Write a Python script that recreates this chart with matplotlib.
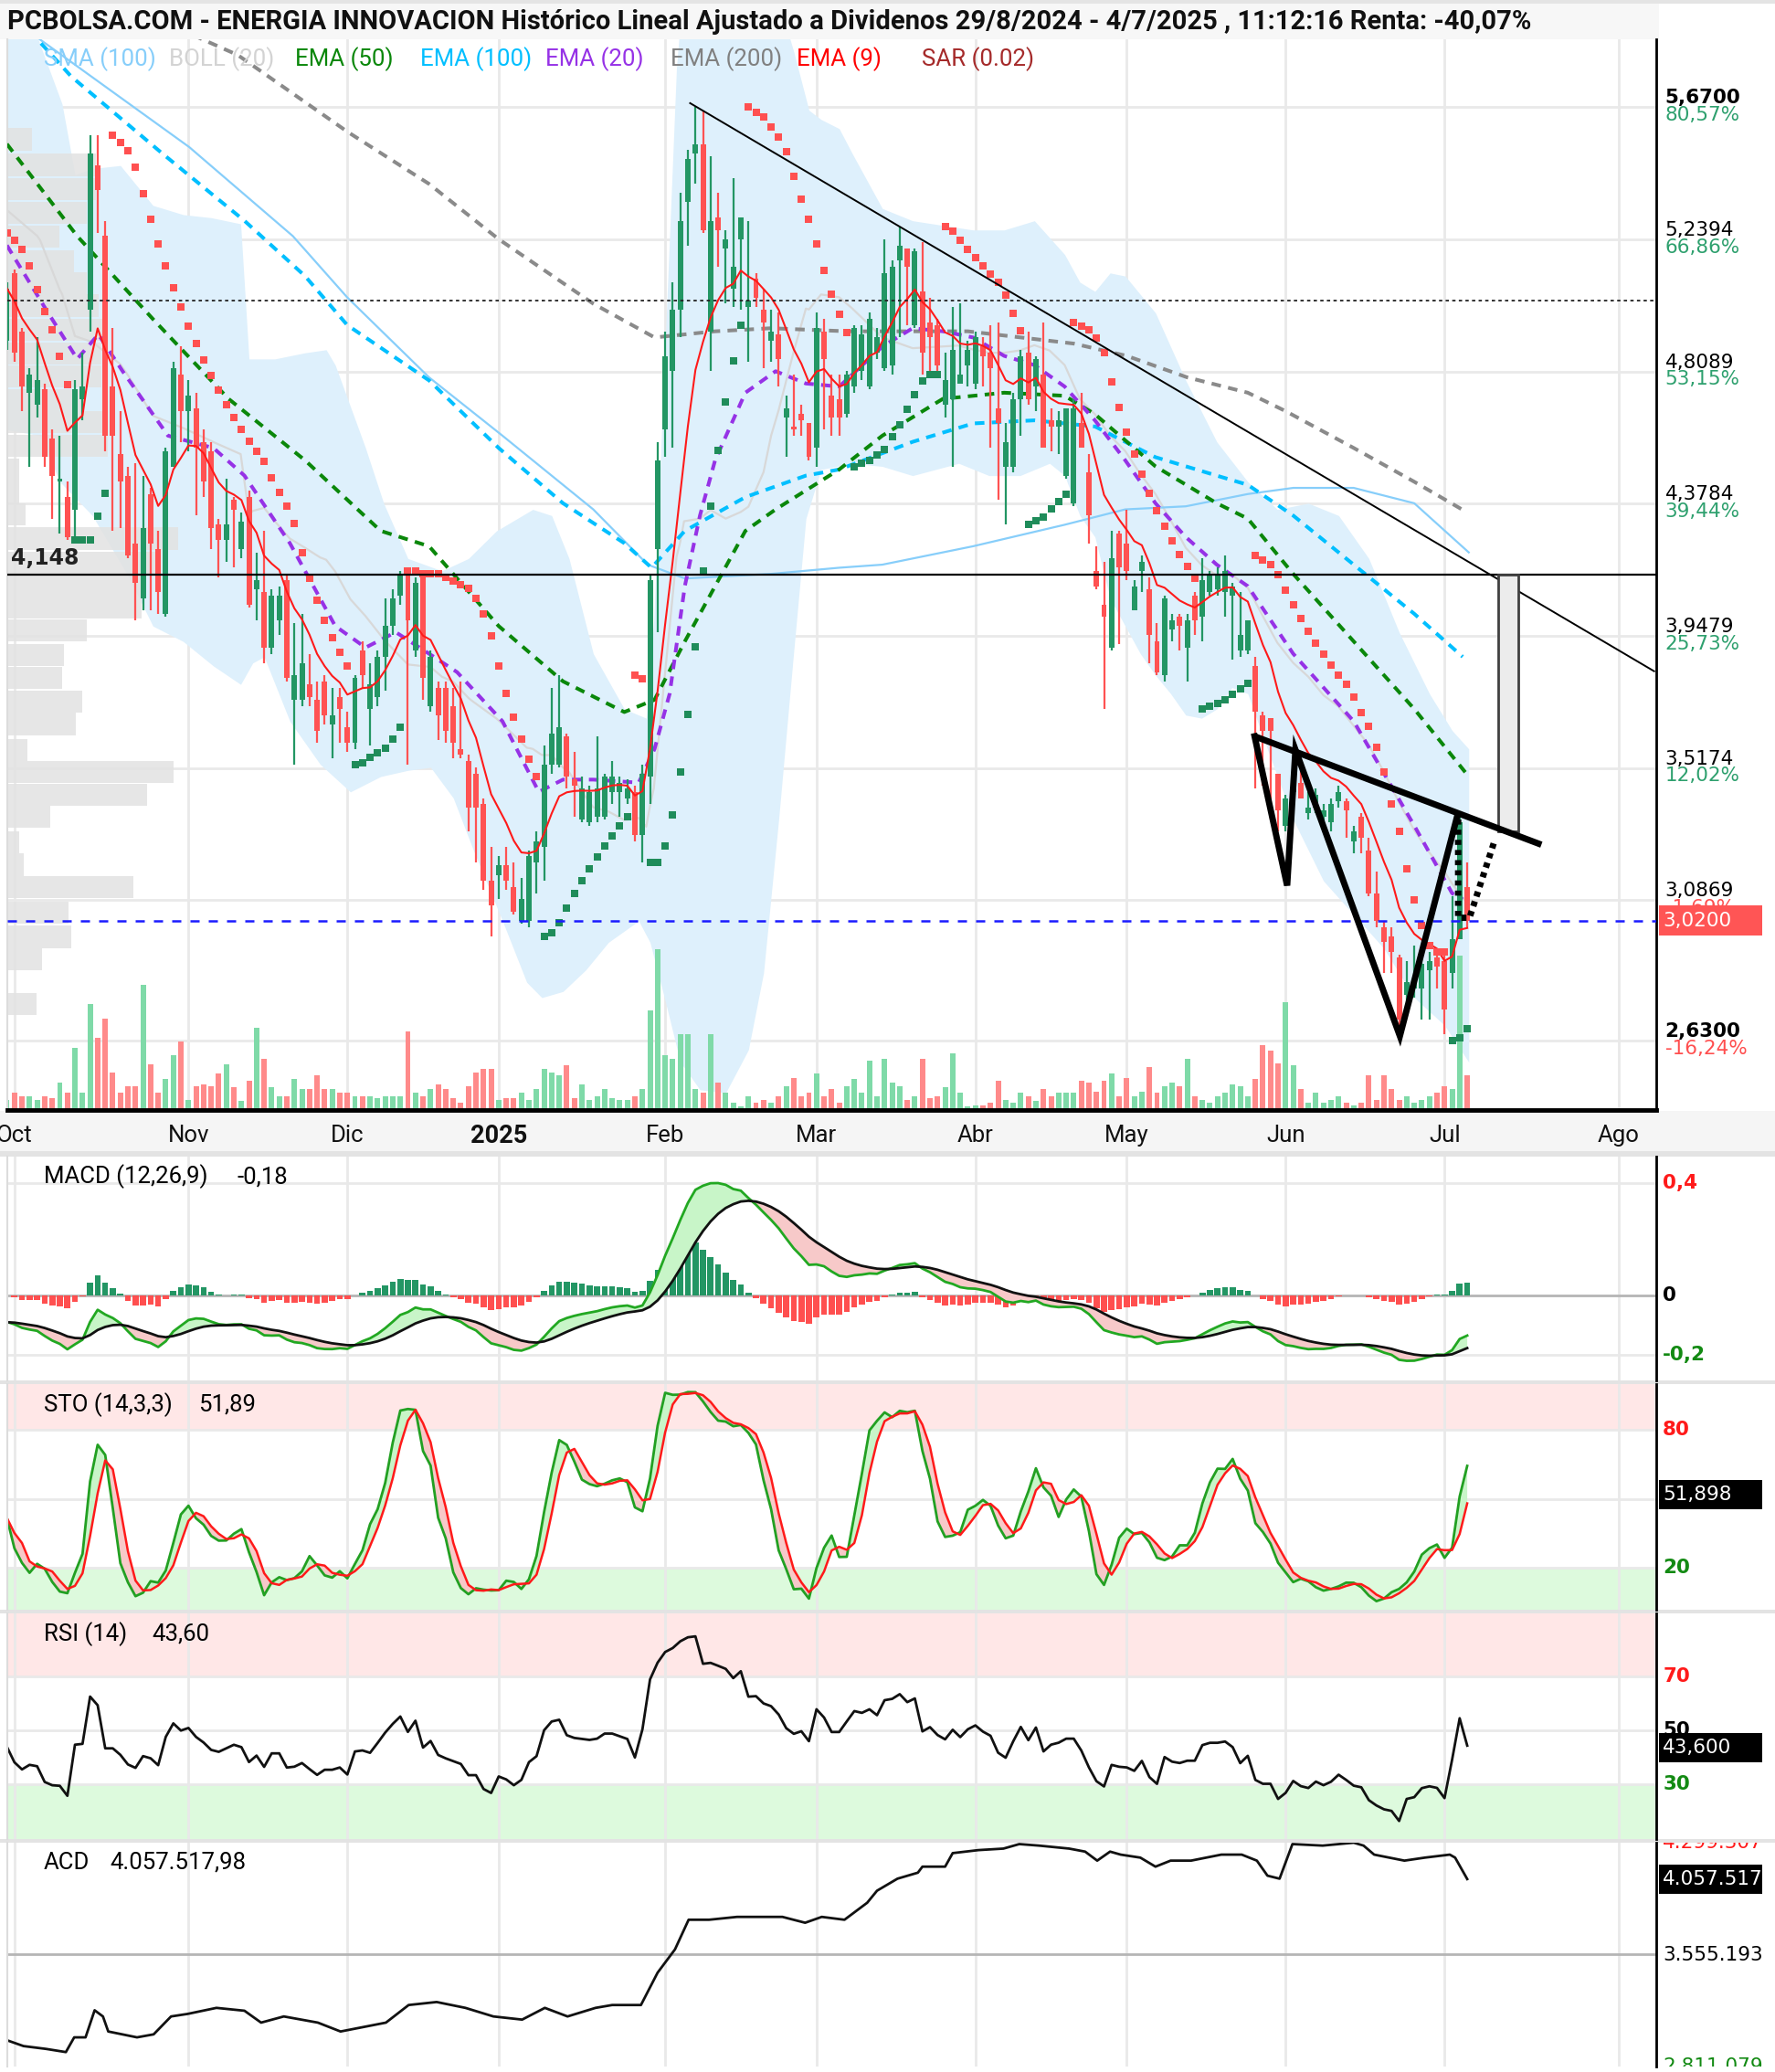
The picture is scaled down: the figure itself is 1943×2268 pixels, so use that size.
import numpy as np
import matplotlib
matplotlib.use("Agg")
import matplotlib.pyplot as plt
from matplotlib.patches import Rectangle
from matplotlib.transforms import Bbox, TransformedBbox

W, H = 1943, 2268
TXT = ['Roboto', 'DejaVu Sans']
NUM = ['DejaVu Sans']
plt.rcParams['font.family'] = TXT

# ---------------- daily bars (index 0 = 1 Oct 2024, trading days) ----------------
first_day = -1
opens = [
    4.91, 5.13, 4.94, 4.74, 4.70, 4.75, 4.59, 4.45, 4.40, 4.36,
    4.72, 5.01, 5.48, 5.25, 4.76, 4.54, 4.47, 4.25, 4.07, 4.41,
    4.23, 4.02, 4.50, 4.80, 4.68, 4.69, 4.58, 4.55, 4.31, 4.26,
    4.39, 4.23, 4.40, 4.10, 4.09, 3.91, 4.00, 4.13, 3.74, 3.74,
    3.79, 3.74, 3.80, 3.66, 3.75, 3.65, 3.60, 3.90, 3.71, 3.75,
    3.88, 3.98, 4.08, 4.15, 3.90, 4.15, 3.72, 3.78, 3.78, 3.72,
    3.58, 3.54, 3.50, 3.40, 3.15, 3.17, 3.20, 3.13, 3.02, 3.02,
    3.21, 3.26, 3.53, 3.53, 3.62, 3.48, 3.35, 3.34, 3.36, 3.36,
    3.44, 3.44, 3.42, 3.44, 3.30, 3.49, 4.23, 4.62, 4.81, 5.01,
    5.36, 5.52, 5.55, 4.94, 5.31, 5.21, 5.08, 5.24, 5.02, 5.11,
    5.01, 4.91, 4.93, 4.66, 4.63, 4.67, 4.64, 4.56, 4.94, 4.73,
    4.72, 4.67, 4.76, 4.81, 4.76, 4.87, 4.82, 4.83, 5.17, 5.21,
    4.96, 5.07, 4.97, 4.96, 4.70, 4.72, 4.77, 4.83, 4.77, 4.89,
    4.87, 4.69, 4.50, 4.50, 4.72, 4.87, 4.76, 4.80, 4.65, 4.63,
    4.47, 4.38, 4.64, 4.48, 4.16, 4.05, 3.91, 4.28, 4.25, 4.03,
    4.16, 4.10, 3.93, 3.82, 3.97, 4.01, 3.91, 4.08, 4.01, 4.09,
    4.10, 4.09, 4.08, 3.90, 3.90, 3.85, 3.69, 3.68, 3.50, 3.33,
    3.44, 3.47, 3.37, 3.39, 3.36, 3.34, 3.41, 3.41, 3.28, 3.36,
    3.25, 3.11, 3.00, 2.97, 2.90, 2.78, 2.80, 2.80, 2.86, 2.90,
    2.89, 2.85, 2.96, 3.13]
highs = [
    5.10, 5.14, 4.95, 4.82, 4.92, 4.77, 4.62, 4.60, 4.45, 4.78,
    4.87, 5.58, 5.58, 5.30, 4.95, 4.68, 4.50, 4.51, 4.47, 4.43,
    4.29, 4.56, 4.84, 4.89, 4.78, 4.74, 4.62, 4.58, 4.33, 4.46,
    4.40, 4.35, 4.42, 4.22, 4.29, 4.10, 4.11, 4.15, 3.99, 4.02,
    3.89, 3.80, 3.82, 3.78, 3.78, 3.70, 3.82, 3.93, 3.86, 3.90,
    4.07, 4.10, 4.16, 4.15, 4.14, 4.15, 3.90, 3.80, 3.80, 3.78,
    3.80, 3.56, 3.52, 3.42, 3.26, 3.23, 3.26, 3.21, 3.16, 3.25,
    3.31, 3.59, 3.78, 3.82, 3.63, 3.57, 3.49, 3.46, 3.62, 3.50,
    3.54, 3.49, 3.48, 3.46, 3.53, 4.15, 4.58, 4.94, 5.10, 5.39,
    5.53, 5.67, 5.66, 5.51, 5.39, 5.27, 5.44, 5.31, 5.30, 5.13,
    5.08, 5.01, 5.00, 4.73, 4.80, 4.70, 4.64, 5.00, 4.98, 4.80,
    4.80, 4.81, 4.96, 4.96, 5.00, 4.95, 5.24, 5.17, 5.28, 5.21,
    5.21, 5.23, 5.05, 4.98, 4.87, 5.02, 5.03, 4.91, 4.94, 4.92,
    4.96, 4.97, 4.64, 4.74, 4.88, 4.94, 4.86, 4.97, 4.69, 4.68,
    4.69, 4.72, 4.74, 4.54, 4.24, 4.19, 4.29, 4.29, 4.36, 4.13,
    4.21, 4.14, 3.99, 4.08, 4.02, 4.02, 4.02, 4.09, 4.20, 4.16,
    4.17, 4.21, 4.12, 4.09, 4.00, 3.88, 3.70, 3.68, 3.50, 3.43,
    3.55, 3.51, 3.44, 3.45, 3.40, 3.42, 3.46, 3.42, 3.33, 3.37,
    3.29, 3.18, 3.02, 3.00, 2.91, 2.89, 2.94, 2.91, 2.92, 2.92,
    2.92, 3.10, 3.37, 3.21]
lows = [
    4.88, 4.84, 4.68, 4.50, 4.66, 4.50, 4.33, 4.28, 4.26, 4.26,
    4.65, 4.94, 5.26, 4.55, 4.29, 4.30, 4.20, 4.00, 4.03, 4.03,
    4.02, 4.01, 4.50, 4.58, 4.55, 4.34, 4.40, 4.23, 4.14, 4.19,
    4.17, 4.20, 4.04, 4.00, 3.86, 3.89, 3.95, 3.80, 3.53, 3.72,
    3.72, 3.60, 3.66, 3.55, 3.60, 3.57, 3.58, 3.78, 3.59, 3.72,
    3.77, 3.95, 4.05, 3.53, 3.88, 3.74, 3.70, 3.61, 3.60, 3.55,
    3.55, 3.31, 3.21, 3.12, 2.97, 3.09, 3.12, 3.04, 3.01, 3.00,
    3.11, 3.15, 3.50, 3.52, 3.45, 3.36, 3.34, 3.33, 3.34, 3.35,
    3.40, 3.36, 3.40, 3.28, 3.21, 3.40, 3.96, 4.53, 4.56, 4.92,
    5.22, 5.42, 5.26, 4.81, 5.15, 5.03, 5.02, 5.01, 4.84, 5.02,
    4.82, 4.84, 4.76, 4.53, 4.60, 4.60, 4.52, 4.50, 4.62, 4.60,
    4.60, 4.66, 4.74, 4.78, 4.75, 4.85, 4.81, 4.80, 4.92, 4.96,
    4.95, 4.80, 4.80, 4.80, 4.66, 4.50, 4.77, 4.76, 4.75, 4.76,
    4.56, 4.39, 4.31, 4.48, 4.60, 4.70, 4.68, 4.56, 4.55, 4.54,
    4.46, 4.37, 4.56, 4.25, 4.10, 3.71, 3.90, 3.92, 4.13, 4.03,
    4.09, 3.86, 3.82, 3.80, 3.93, 3.90, 3.80, 3.95, 3.93, 4.08,
    4.08, 4.01, 3.87, 3.88, 3.89, 3.45, 3.46, 3.35, 3.31, 3.31,
    3.42, 3.42, 3.35, 3.37, 3.34, 3.31, 3.39, 3.29, 3.24, 3.24,
    3.10, 3.00, 2.85, 2.85, 2.63, 2.74, 2.77, 2.70, 2.70, 2.80,
    2.65, 2.80, 2.96, 3.00]
closes = [
    5.08, 4.87, 4.76, 4.80, 4.78, 4.53, 4.47, 4.46, 4.27, 4.75,
    4.76, 5.52, 5.40, 4.60, 4.60, 4.45, 4.21, 4.12, 4.30, 4.25,
    4.09, 4.55, 4.82, 4.68, 4.73, 4.56, 4.45, 4.30, 4.26, 4.31,
    4.36, 4.32, 4.05, 4.13, 3.91, 4.08, 4.08, 3.81, 3.82, 3.86,
    3.75, 3.64, 3.69, 3.69, 3.71, 3.60, 3.81, 3.82, 3.79, 3.88,
    3.98, 4.07, 4.15, 4.00, 4.12, 3.81, 3.88, 3.69, 3.64, 3.60,
    3.56, 3.39, 3.39, 3.15, 3.07, 3.20, 3.15, 3.05, 3.09, 3.23,
    3.28, 3.53, 3.63, 3.65, 3.49, 3.46, 3.45, 3.44, 3.45, 3.49,
    3.49, 3.47, 3.45, 3.30, 3.50, 4.13, 4.52, 4.86, 5.01, 5.30,
    5.50, 5.55, 5.27, 5.30, 5.27, 5.24, 5.15, 5.31, 5.04, 5.05,
    4.97, 4.94, 4.85, 4.69, 4.62, 4.65, 4.53, 4.95, 4.85, 4.66,
    4.66, 4.80, 4.95, 4.93, 4.98, 4.92, 5.13, 5.15, 5.22, 5.15,
    5.20, 4.87, 4.92, 4.83, 4.78, 4.88, 4.80, 4.88, 4.92, 4.86,
    4.82, 4.64, 4.58, 4.72, 4.86, 4.72, 4.85, 4.56, 4.63, 4.65,
    4.69, 4.69, 4.56, 4.34, 4.11, 4.01, 4.20, 4.17, 4.16, 4.11,
    4.19, 3.95, 3.83, 4.07, 4.00, 3.98, 4.00, 4.00, 4.13, 4.15,
    4.15, 4.16, 4.11, 3.95, 4.00, 3.70, 3.64, 3.64, 3.38, 3.42,
    3.50, 3.42, 3.39, 3.43, 3.38, 3.40, 3.44, 3.38, 3.31, 3.29,
    3.11, 3.02, 2.95, 2.92, 2.70, 2.82, 2.83, 2.88, 2.89, 2.87,
    2.73, 2.96, 3.34, 3.02]
volume = [
    15, 25, 20, 20, 15, 20, 17, 40, 25, 90,
    25, 155, 105, 133, 55, 25, 35, 35, 182, 67,
    25, 45, 80, 100, 15, 35, 37, 35, 53, 67,
    33, 13, 43, 120, 75, 33, 20, 20, 45, 30,
    30, 50, 30, 30, 25, 25, 20, 20, 20, 17,
    20, 20, 20, 115, 25, 20, 30, 37, 30, 17,
    10, 35, 55, 60, 60, 15, 17, 17, 25, 15,
    30, 60, 55, 50, 65, 17, 37, 15, 20, 30,
    17, 15, 15, 20, 30, 145, 235, 80, 75, 110,
    110, 30, 25, 110, 40, 25, 10, 5, 20, 10,
    15, 10, 20, 35, 47, 20, 25, 53, 20, 30,
    10, 35, 45, 25, 72, 20, 75, 40, 35, 15,
    20, 75, 17, 20, 33, 82, 25, 5, 7, 7,
    10, 43, 15, 10, 25, 20, 13, 30, 20, 25,
    25, 25, 43, 40, 27, 43, 53, 20, 47, 20,
    27, 63, 25, 35, 40, 35, 75, 20, 15, 10,
    20, 25, 37, 35, 20, 45, 95, 87, 68, 157,
    65, 30, 10, 25, 10, 15, 20, 10, 7, 10,
    50, 15, 50, 30, 15, 20, 10, 15, 20, 25,
    35, 30, 225, 50]

# high / low range of the two weeks before the first bar (stochastic window)
prior_high = 5.54
prior_low = 4.75

# ---------------- moving averages / bands (trading-day index, price) ----------------
ema200_idx = [20, 24, 29.5, 44, 54.8, 64, 76.5, 84.6, 92.6, 100, 110, 126, 140, 147, 155, 163, 168, 177, 185, 192]
ema200_val = [5.97, 5.90, 5.84, 5.59, 5.42, 5.24, 5.03, 4.92, 4.94, 4.95, 4.94, 4.94, 4.90, 4.86, 4.79, 4.74, 4.68,
              4.56, 4.45, 4.35]

ema100_idx = [-1, 7.5, 19.5, 30.4, 38.4, 44, 54.8, 64, 72.5, 80.6, 84.2, 88.6, 96.6, 104.6, 109, 118.7, 126.7,
              134.8, 142.8, 150.8, 158.9, 163, 169, 177, 185, 191.4]
ema100_val = [6.00, 5.77, 5.52, 5.30, 5.12, 4.96, 4.78, 4.56, 4.38, 4.25, 4.17, 4.29, 4.40, 4.47, 4.49, 4.58, 4.64,
              4.65, 4.63, 4.53, 4.47, 4.44, 4.34, 4.18, 4.02, 3.88]

sma100_idx = [-1, 3.4, 23.1, 36.8, 44, 54.8, 64.5, 76.5, 83.7, 88.6, 100, 109, 114.7, 126.7, 138.8, 146.8, 154.8,
              163, 169, 177, 185, 192.2]
sma100_val = [5.98, 5.89, 5.54, 5.25, 5.05, 4.79, 4.60, 4.36, 4.18, 4.135, 4.15, 4.17, 4.18, 4.24, 4.31, 4.36, 4.37,
              4.41, 4.43, 4.43, 4.38, 4.22]

ema50_idx = [-1, 8.3, 18.3, 28.3, 38.4, 48.4, 54.8, 64, 72.5, 80.6, 84.6, 88.6, 92.6, 96.6, 100.6, 109, 114.7,
             122.7, 130.8, 138.8, 142.8, 150.8, 158.9, 163, 169, 177, 185, 192.2]
ema50_val = [5.55, 5.25, 4.98, 4.72, 4.52, 4.29, 4.24, 3.98, 3.80, 3.70, 3.74, 3.93, 4.11, 4.29, 4.36, 4.49, 4.60,
             4.72, 4.74, 4.73, 4.67, 4.50, 4.38, 4.33, 4.15, 3.93, 3.71, 3.49]

ema20_idx = [-1, 4.2, 8.3, 11.1, 14.3, 20.3, 26.3, 30.4, 36.4, 42.4, 46.4, 50.4, 54.8, 58.5, 64.5, 69.3, 72.5,
             76.5, 82.5, 84.6, 86.6, 88.6, 90.6, 92.6, 96.6, 100.6, 104.6, 109, 114.7, 118.7, 122.7, 126.7, 130.8,
             134.8, 138.8, 142.8, 146.8, 150.8, 154.8, 158.9, 163, 169, 177, 185, 190, 191.4]
ema20_val = [5.22, 5.01, 4.85, 4.93, 4.81, 4.60, 4.56, 4.47, 4.25, 3.98, 3.91, 3.96, 3.89, 3.83, 3.67, 3.44, 3.48,
             3.48, 3.47, 3.58, 3.76, 4.11, 4.34, 4.52, 4.74, 4.81, 4.77, 4.76, 4.89, 4.95, 4.94, 4.92, 4.86,
             4.83, 4.76, 4.65, 4.52, 4.38, 4.27, 4.18, 4.11, 3.89, 3.67, 3.33, 3.11, 3.09]

boll_up_idx = [-1, 3, 6.3, 8, 10.3, 14, 18.3, 22.3, 26, 29.9, 31, 34.4, 38.4, 41.2, 42.4, 46.4, 48.8, 52, 56.5,
               60, 63.7, 68.5, 71, 73.3, 76.5, 80.6, 83.5, 84.5, 85.5, 86.5, 87.5, 88.5, 92, 96, 100, 103, 105,
               106.6, 109, 110.7, 114.7, 118.7, 126.7, 130.8, 134.8, 138.8, 140.8, 142.8, 144.8, 146.8, 150.8,
               154.8, 158.9, 163, 166.9, 171, 175, 179, 183, 187, 190, 192.2]
boll_up_val = [6.05, 5.90, 5.68, 5.45, 5.47, 5.48, 5.35, 5.32, 5.31, 5.29, 4.85, 4.85, 4.87, 4.88, 4.83, 4.56,
               4.38, 4.20, 4.16, 4.20, 4.29, 4.36, 4.34, 4.20, 3.89, 3.71, 3.68, 4.00, 4.60, 5.20, 5.80, 6.10,
               6.25, 6.15, 6.10, 5.85, 5.66, 5.63, 5.60, 5.52, 5.34, 5.30, 5.27, 5.27, 5.30, 5.19, 5.10, 5.07,
               5.13, 5.12, 5.00, 4.78, 4.58, 4.45, 4.36, 4.38, 4.34, 4.20, 3.96, 3.76, 3.64, 3.58]
boll_lo_idx = [-1, 3.4, 6, 10.3, 15.1, 18.3, 22.3, 26.3, 29.9, 31.5, 33, 36.4, 40.4, 44.4, 48.4, 52, 55, 58,
               60.5, 64.5, 67.7, 69.7, 72.5, 75.5, 78.5, 82.5, 84, 86, 88, 90.6, 94, 97, 99, 101, 103, 104.6,
               106.6, 110.7, 114.7, 118.7, 124.8, 128.8, 132.9, 136.8, 138.8, 140.8, 142.8, 144.8, 146.8, 148.8,
               150.8, 152.8, 154.8, 156.9, 158.9, 160.9, 163, 165, 169, 173, 177, 181, 185, 189, 192.2]
boll_lo_val = [4.62, 4.60, 4.45, 4.34, 4.14, 3.98, 3.93, 3.85, 3.79, 3.86, 3.88, 3.67, 3.53, 3.44, 3.49, 3.51,
               3.52, 3.42, 3.26, 3.02, 2.82, 2.77, 2.79, 2.86, 2.95, 3.02, 2.95, 2.76, 2.56, 2.47, 2.46, 2.60,
               2.85, 3.35, 3.90, 4.33, 4.49, 4.51, 4.50, 4.47, 4.51, 4.47, 4.47, 4.51, 4.47, 4.34, 4.27, 4.07,
               3.98, 3.89, 3.82, 3.76, 3.69, 3.68, 3.71, 3.78, 3.76, 3.62, 3.35, 3.15, 3.04, 2.93, 2.77, 2.68,
               2.56]

# volume profile at the left edge (price level, relative volume)
profile_price = [5.565, 5.482, 5.404, 5.326, 5.248, 5.169, 5.096, 5.024, 4.946, 4.868, 4.794, 4.716, 4.644,
                 4.566, 4.488, 4.414, 4.343, 4.265, 4.187, 4.113, 4.041, 3.967, 3.885, 3.811, 3.733, 3.661,
                 3.576, 3.505, 3.431, 3.360, 3.275, 3.203, 3.129, 3.047, 2.968, 2.895, 2.750]
profile_vol = [80, 290, 290, 260, 170, 220, 260, 300, 330, 310, 310, 250, 330, 330, 40, 40, 60, 560, 500, 440,
               440, 260, 185, 180, 245, 225, 65, 545, 460, 140, 40, 55, 415, 200, 210, 115, 95]

# accumulation / distribution line
acd_idx = [-1, 1.2, 4.2, 6.8, 7.9, 9.4, 10.6, 11.7, 12.4, 16.2, 18.4, 20.7, 22.9, 26.7, 30.4, 32.6, 35.6, 40.1,
           43.1, 49.1, 52.1, 55.8, 59.6, 63.3, 67.1, 70.1, 73.1, 76.8, 79.0, 82.8, 85.0, 87.3, 89.1, 91.8, 95.5,
           101.5, 104.5, 106.7, 109.7, 112.7, 114.0, 116.7, 119.4, 120.0, 123.0, 124.0, 127.4, 130.7, 132.8,
           135.4, 139.4, 141.5, 143.1, 144.8, 146.2, 148.8, 150.8, 152.8, 155.5, 159.5, 162.2, 164.2, 165.6,
           167.2, 168.9, 172.9, 177.0, 178.3, 179.7, 181.7, 183.7, 186.4, 189.7, 190.4, 192]
acd_val = [2.986, 2.947, 2.928, 2.907, 3.005, 3.005, 3.185, 3.144, 3.044, 3.005, 3.025, 3.144, 3.161, 3.201,
           3.182, 3.103, 3.144, 3.103, 3.044, 3.103, 3.220, 3.240, 3.201, 3.144, 3.123, 3.201, 3.144, 3.201,
           3.220, 3.220, 3.435, 3.590, 3.787, 3.787, 3.806, 3.806, 3.767, 3.806, 3.787, 3.900, 3.980, 4.060,
           4.100, 4.140, 4.140, 4.230, 4.250, 4.260, 4.290, 4.280, 4.260, 4.240, 4.180, 4.240, 4.220, 4.200,
           4.140, 4.180, 4.180, 4.220, 4.220, 4.180, 4.080, 4.060, 4.290, 4.280, 4.2993, 4.280, 4.220, 4.200,
           4.180, 4.200, 4.220, 4.200, 4.0575]

# chart annotations
level_price = 4.148
start_price = 5.0392
last_price = 3.02
ref_price = 3.14
trend_pts = ([89.3, 216.7], [5.683, 3.833])
neck_pts = ([163.9, 201.8], [3.621, 3.268])
w_pts = ([163.9, 168.2, 169.3, 183.1, 190.7], [3.621, 3.135, 3.577, 2.645, 3.363])
proj_pts = ([190.8, 190.8, 192.3, 195.6], [3.35, 3.03, 3.03, 3.28])
target_box = (196.1, 198.8, 3.31, 4.148)

month_idx = [0, 23, 44, 64, 86, 106, 127, 147, 168, 189, 212]
month_lbl = ['Oct', 'Nov', 'Dic', '2025', 'Feb', 'Mar', 'Abr', 'May', 'Jun', 'Jul', 'Ago']
price_grid = [5.67, 5.2394, 4.8089, 4.3784, 3.9479, 3.5174, 3.0869, 2.63]

# ---------------- indicator helpers ----------------
o = np.array(opens); h = np.array(highs); l = np.array(lows); c = np.array(closes)
v = np.array(volume, dtype=float)
x = np.arange(first_day, first_day + len(c))


def ema(values, n, seed):
    a = 2.0 / (n + 1)
    out, e = [], seed
    for val in values:
        e = e + a * (val - e)
        out.append(e)
    return np.array(out)


def parabolic_sar(hi, lo, sar0, ep0, af0, trend0, step=0.02, amax=0.2):
    sar = np.empty(len(hi)); tr_out = np.empty(len(hi), dtype=int)
    s, ep, af, tr = sar0, ep0, af0, trend0
    sar[0], tr_out[0] = s, tr
    for t in range(1, len(hi)):
        s = s + af * (ep - s)
        if tr > 0:
            s = min(s, lo[t - 1], lo[max(t - 2, 0)])
            if lo[t] < s:
                tr, s, ep, af = -1, ep, lo[t], step
            elif hi[t] > ep:
                ep, af = hi[t], min(af + step, amax)
        else:
            s = max(s, hi[t - 1], hi[max(t - 2, 0)])
            if hi[t] > s:
                tr, s, ep, af = 1, ep, hi[t], step
            elif lo[t] < ep:
                ep, af = lo[t], min(af + step, amax)
        sar[t], tr_out[t] = s, tr
    return sar, tr_out


def rsi_wilder(cl, n, g0, l0):
    g, ls = g0, l0
    out = [100 - 100 / (1 + g / ls)]
    for t in range(1, len(cl)):
        ch = cl[t] - cl[t - 1]
        g = (g * (n - 1) + max(ch, 0)) / n
        ls = (ls * (n - 1) + max(-ch, 0)) / n
        out.append(100 - 100 / (1 + g / ls))
    return np.array(out)


def stochastic(hi, lo, cl, hi0, lo0, n=14, ks=3, ds=3):
    raw = []
    for t in range(len(cl)):
        a = t - n + 1
        hh, ll = hi[max(a, 0):t + 1].max(), lo[max(a, 0):t + 1].min()
        if a < 0:  # window still reaches into the bars before the first one
            hh, ll = max(hh, hi0), min(ll, lo0)
        raw.append(100 * (cl[t] - ll) / (hh - ll) if hh > ll else 50)
    raw = np.array(raw)
    k = np.array([raw[max(0, t - ks + 1):t + 1].mean() for t in range(len(raw))])
    d = np.array([k[max(0, t - ds + 1):t + 1].mean() for t in range(len(k))])
    return k, d


ema9 = ema(c, 9, c[0])
sar, sar_tr = parabolic_sar(h, l, 5.26, 4.88, 0.06, -1)
macd_line = ema(c, 12, 5.12) - ema(c, 26, 5.243)
macd_sig = ema(macd_line, 9, -0.119)
macd_hist = macd_line - macd_sig
sto_k, sto_d = stochastic(h, l, c, prior_high, prior_low)
rsi = rsi_wilder(c, 14, 0.047, 0.060)

# ---------------- figure ----------------
fig = plt.figure(figsize=(W / 100, H / 100), dpi=100)
fig.patch.set_facecolor('white')


def frect(x0, y0, x1, y1):
    return [x0 / W, 1 - y1 / H, (x1 - x0) / W, (y1 - y0) / H]


def fig_box(x0, y0, x1, y1, color, z=0):
    fig.add_artist(Rectangle((x0 / W, 1 - y1 / H), (x1 - x0) / W, (y1 - y0) / H,
                             transform=fig.transFigure, facecolor=color, edgecolor='none', zorder=z))


# frame bands
fig_box(0, 0, 1816, 43, '#f7f7f7')
fig_box(0, 0, W, 4, '#e4e4e4')
fig_box(0, 1216, W, 1263, '#f5f5f5')
fig_box(0, 1260, W, 1266, '#e3e3e3')
for yb in (1511, 1762, 2013):
    fig_box(0, yb, W, yb + 4, '#e3e3e3')

fig.text(8 / W, 1 - 24 / H,
         'PCBOLSA.COM - ENERGIA INNOVACION Histórico Lineal Ajustado a Dividenos 29/8/2024 - 4/7/2025 , '
         '11:12:16 Renta: -40,07%', fontsize=21, fontweight='bold', ha='left', va='center', color='#111111')

XL = (-0.94, 216.98)
GRID = '#e9e9e9'


def base_axes(r):
    a = fig.add_axes(r)
    a.set_xlim(*XL)
    a.set_xticks([]); a.set_yticks([])
    for s in ('top', 'bottom'):
        a.spines[s].set_visible(False)
    a.spines['left'].set_color('#dcdcdc'); a.spines['left'].set_linewidth(1.5)
    a.spines['right'].set_color('black'); a.spines['right'].set_linewidth(2)
    for mi in month_idx:
        a.axvline(mi, color=GRID, lw=2, zorder=0.3)
    return a


# ---------------- main price panel ----------------
ax = base_axes(frect(8, 43, 1813, 1215))
ax.set_ylim(2.404, 5.891)
ax.spines['bottom'].set_visible(True); ax.spines['bottom'].set_linewidth(3.5)
for p in price_grid:
    ax.axhline(p, color=GRID, lw=2, zorder=0.3)

# Bollinger envelope, middle line and volume profile
xb = np.array(sorted(set(boll_up_idx) | set(boll_lo_idx)))
up_i = np.interp(xb, boll_up_idx, boll_up_val)
lo_i = np.interp(xb, boll_lo_idx, boll_lo_val)
ax.fill_between(xb, lo_i, up_i, color='#def0fc', lw=0, zorder=0.6)
ax.plot(xb, (up_i + lo_i) / 2, color='#d8d8d8', lw=1.6, zorder=2.5)
ax.barh(profile_price, np.array(profile_vol) / 5415.0, height=0.072, left=0,
        transform=ax.get_yaxis_transform(), color='#e2e2e2', alpha=0.85, lw=0, zorder=0.8)

# volume bars
up_day = c >= o
vol_col = np.where(up_day, '#7fdaa8', '#ff8a8a')
ax.bar(x, v / 1561.0, width=0.72, bottom=0, color=vol_col, lw=0,
       transform=ax.get_xaxis_transform(), zorder=1.2)

# moving averages
ax.plot(sma100_idx, sma100_val, color='#87cefa', lw=1.6, zorder=2.6)
dash = (2.6, 2.0)
ax.plot(ema200_idx, ema200_val, color='#8a8a8a', lw=2.9, dashes=dash, zorder=3)
ax.plot(ema100_idx, ema100_val, color='#00bfff', lw=2.9, dashes=dash, zorder=3)
ax.plot(ema50_idx, ema50_val, color='#0a870a', lw=2.9, dashes=dash, zorder=3)
ax.plot(ema20_idx, ema20_val, color='#9632e6', lw=2.9, dashes=dash, zorder=3)

# candles
GREEN, RED = '#239664', '#ff5252'
ccol = np.where(up_day, GREEN, RED)
ax.vlines(x, l, h, colors=ccol, lw=1.6, zorder=4)
body_lo = np.minimum(o, c)
body_h = np.maximum(np.abs(c - o), 0.008)
ax.bar(x, body_h, width=0.72, bottom=body_lo, color=ccol, lw=0, zorder=4.1)

ax.plot(x, ema9, color='#ff1a1a', lw=1.5, zorder=5)
ax.scatter(x[sar_tr < 0], sar[sar_tr < 0], marker='s', s=30, color='#ff5050', lw=0, zorder=5)
ax.scatter(x[sar_tr > 0], sar[sar_tr > 0], marker='s', s=30, color='#1f8c5a', lw=0, zorder=5)

# levels and drawings
ax.axhline(level_price, color='black', lw=1.6, zorder=6)
ax.axhline(start_price, color='#222222', lw=1.3, dashes=(2, 2), zorder=6)
ax.axhline(last_price, color='#1a1aff', lw=1.8, dashes=(4, 4), zorder=6)
ax.text(-0.5, level_price + 0.018, '4,148', fontsize=17, fontweight='bold', family=NUM,
        ha='left', va='bottom', color='#222222', zorder=7)
ax.plot(*trend_pts, color='black', lw=1.4, zorder=6)
ax.add_patch(Rectangle((target_box[0], target_box[2]), target_box[1] - target_box[0],
                       target_box[3] - target_box[2], facecolor='#ececec', edgecolor='#404040', lw=2, zorder=6))
ax.plot(*neck_pts, color='black', lw=5, solid_capstyle='butt', zorder=7)
ax.plot(*w_pts, color='black', lw=5, solid_joinstyle='miter', zorder=7)
ax.plot(*proj_pts, color='black', lw=5, dashes=(0.8, 0.8), zorder=7)

# indicator legend
legend_items = [('SMA (100)', '#87cefa'), ('BOLL (20)', '#d3d3d3'), ('EMA (50)', '#0a870a'),
                ('EMA (100)', '#00bfff'), ('EMA (20)', '#9632e6'), ('EMA (200)', '#808080'),
                ('EMA (9)', '#ff0000'), ('SAR (0.02)', '#a52a2a')]
for k, (lab, col) in enumerate(legend_items):
    fig.text((48 + 137.3 * k) / W, 1 - 65 / H, lab, color=col, fontsize=18.6, ha='left', va='center', zorder=10)

# right price scale
ytr = ax.get_yaxis_transform()
for p in price_grid:
    bold = p in (5.67, 2.63)
    pct = (p / ref_price - 1) * 100
    ax.annotate(f'{p:.4f}'.replace('.', ','), xy=(1, p), xycoords=ytr, xytext=(7, 0), textcoords='offset points',
                ha='left', va='bottom', fontsize=15.5, family=NUM, fontweight='bold' if bold else 'normal',
                color='black', annotation_clip=False)
    ax.annotate(f'{pct:.2f}%'.replace('.', ','), xy=(1, p), xycoords=ytr, xytext=(7, 1),
                textcoords='offset points', ha='left', va='top', fontsize=15.5, family=NUM,
                color='#2ea06e' if pct >= 0 else '#ff4f4f', annotation_clip=False, zorder=2)


def value_box(a, val, txt, face, hdata):
    a.add_patch(Rectangle((1.0015, val - hdata / 2), 113 / 1805, hdata, transform=a.get_yaxis_transform(),
                          facecolor=face, edgecolor='none', clip_on=False, zorder=20))
    a.text(1.004, val, txt, transform=a.get_yaxis_transform(), ha='left', va='center', color='white',
           fontsize=15.5, family=NUM, clip_on=False, zorder=21)


def panel_label(a, yfrac, name, value, value_px):
    a.text(40 / 1805, yfrac, name, transform=a.transAxes, fontsize=18.5, ha='left', va='center')
    a.text((value_px - 8) / 1805, yfrac, value, transform=a.transAxes, fontsize=18.5, ha='left', va='center')


value_box(ax, last_price, '3,0200', '#ff5555', 33 / 336.1)

for mi, ml in zip(month_idx, month_lbl):
    ax.text(mi, -0.024, ml, transform=ax.get_xaxis_transform(), ha='center', va='center',
            fontsize=19.5 if ml == '2025' else 18.5,
            fontweight='bold' if ml == '2025' else 'normal', color='#111111', clip_on=False)

# ---------------- MACD ----------------
# the scale runs from the zero line to the extreme of the lines (top grid line)
am = base_axes(frect(8, 1266, 1813, 1511))
m_top = max(macd_line.max(), macd_sig.max())
px_per_unit = (1418 - 1295) / m_top
am.set_ylim(-(1511 - 1418) / px_per_unit, (1418 - 1266) / px_per_unit)
m_bot = -(1483 - 1418) / px_per_unit
for gv in (m_top, m_bot):
    am.axhline(gv, color=GRID, lw=2, zorder=0.3)
am.axhline(0, color='#b5b5b5', lw=2, zorder=0.4)
am.bar(x, macd_hist, width=0.8, color=np.where(macd_hist >= 0, '#239664', '#ff4f4f'), lw=0, zorder=1)
am.fill_between(x, macd_line, macd_sig, where=macd_line >= macd_sig, interpolate=True, color='#c8f5c8', lw=0,
                zorder=1.5)
am.fill_between(x, macd_line, macd_sig, where=macd_line < macd_sig, interpolate=True, color='#f7c9c9', lw=0,
                zorder=1.5)
am.plot(x, macd_line, color='#22a822', lw=2, zorder=2)
am.plot(x, macd_sig, color='#111111', lw=2, zorder=2.1)
panel_label(am, 0.91, 'MACD (12,26,9)', '-0,18', 260)
for val, txt, col in ((m_top, '0,4', '#ff1a1a'), (0, '0', 'black'), (m_bot, '-0,2', '#138a13')):
    am.text(1.004, val, txt, transform=am.get_yaxis_transform(), fontsize=15.5, family=NUM, fontweight='bold',
            color=col, ha='left', va='center', clip_on=False)

# ---------------- Stochastic ----------------
ast = base_axes(frect(8, 1515, 1813, 1762))
ast.set_ylim(1.67, 100.1)
ast.axhspan(80, 100.1, color='#ffe7e7', lw=0, zorder=0.1)
ast.axhspan(1.67, 20, color='#ddfadd', lw=0, zorder=0.1)
for gv in (80, 50, 20):
    ast.axhline(gv, color=GRID, lw=2, zorder=0.3)
ast.fill_between(x, sto_k, sto_d, where=sto_k >= sto_d, interpolate=True, color='#c8f5c8', lw=0, zorder=1)
ast.fill_between(x, sto_k, sto_d, where=sto_k < sto_d, interpolate=True, color='#f7c9c9', lw=0, zorder=1)
ast.plot(x, sto_k, color='#22a022', lw=2, zorder=2)
ast.plot(x, sto_d, color='#ff1a1a', lw=1.8, zorder=2.1)
panel_label(ast, 0.907, 'STO (14,3,3)', '51,89', 217)
for val, txt, col in ((80, '80', '#ff1a1a'), (20, '20', '#138a13')):
    ast.text(1.004, val, txt, transform=ast.get_yaxis_transform(), fontsize=15.5, family=NUM, fontweight='bold',
             color=col, ha='left', va='center', clip_on=False)
value_box(ast, 51.898, '51,898', 'black', 32 / 2.51)

# ---------------- RSI ----------------
ar = base_axes(frect(8, 1766, 1813, 2013))
ar.set_ylim(9.85, 93.1)
ar.axhspan(70, 93.1, color='#ffe7e7', lw=0, zorder=0.1)
ar.axhspan(9.85, 30, color='#ddfadd', lw=0, zorder=0.1)
for gv in (70, 50, 30):
    ar.axhline(gv, color=GRID, lw=2, zorder=0.3)
ar.plot(x, rsi, color='#111111', lw=2, zorder=2)
panel_label(ar, 0.91, 'RSI (14)', '43,60', 166)
for val, txt, col in ((70, '70', '#ff1a1a'), (50, '50', 'black'), (30, '30', '#138a13')):
    ar.text(1.004, val, txt, transform=ar.get_yaxis_transform(), fontsize=15.5, family=NUM, fontweight='bold',
            color=col, ha='left', va='center', clip_on=False)
value_box(ar, 43.6, '43,600', 'black', 32 / 2.967)

# ---------------- Accumulation / distribution ----------------
aa = base_axes(frect(8, 2017, 1813, 2262))
aa.set_ylim(2811079, 4299307)
aa.axhline(3555193, color='#b5b5b5', lw=2, zorder=0.4)
aa.plot(acd_idx, np.array(acd_val) * 1e6, color='#111111', lw=2, zorder=2)
panel_label(aa, 0.912, 'ACD', '4.057.517,98', 120)
clip = TransformedBbox(Bbox([[1813 / W, 1 - 2262 / H], [1.0, 1 - 2017 / H]]), fig.transFigure)
for val, txt, col in ((4299307, '4.299.307', '#ff1a1a'), (3555193, '3.555.193', 'black'),
                      (2811079, '2.811.079', '#138a13')):
    t = aa.text(1.004, val, txt, transform=aa.get_yaxis_transform(), fontsize=15.5, family=NUM,
                color=col, ha='left', va='center', clip_on=True)
    t.set_clip_box(clip)
value_box(aa, 4057518, '4.057.517', 'black', 32 * (4299307 - 2811079) / 245)

fig.savefig('out.png', dpi=100, facecolor='white')
